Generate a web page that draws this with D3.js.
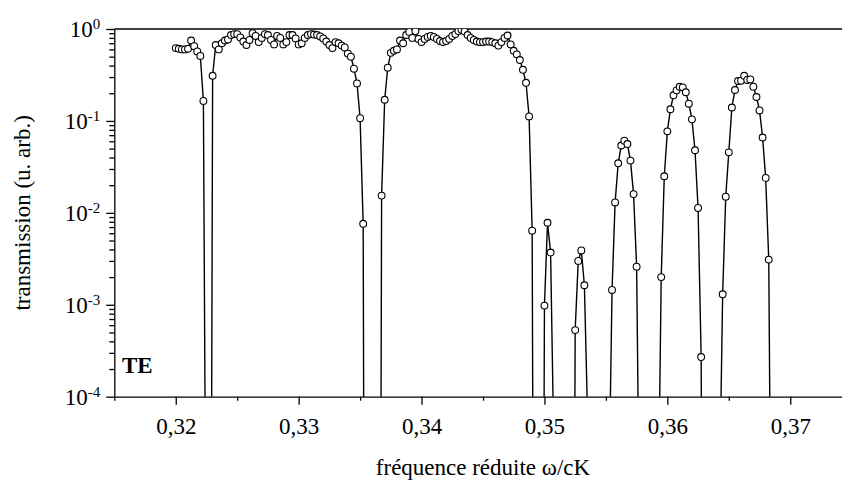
<!DOCTYPE html>
<html>
<head>
<meta charset="utf-8">
<script src="https://cdn.jsdelivr.net/npm/d3@7"></script>
<style>
  body { margin: 0; background: #fff; }
  text { font-family: "Liberation Serif", "Times New Roman", serif; fill: #000; }
  .axis path, .axis line { stroke: #000; stroke-width: 1.3; }
</style>
</head>
<body>
<div id="chart"></div>
<script>
// reduced frequency (omega/cK) of each sample
const freq = [
  0.32000, 0.32025, 0.32050, 0.32075, 0.32100, 0.32125, 0.32150, 0.32175, 0.32200, 0.32225,
  0.32250, 0.32275, 0.32300, 0.32325, 0.32350, 0.32375, 0.32400, 0.32425, 0.32450, 0.32475,
  0.32500, 0.32525, 0.32550, 0.32575, 0.32600, 0.32625, 0.32650, 0.32675, 0.32700, 0.32725,
  0.32750, 0.32775, 0.32800, 0.32825, 0.32850, 0.32875, 0.32900, 0.32925, 0.32950, 0.32975,
  0.33000, 0.33025, 0.33050, 0.33075, 0.33100, 0.33125, 0.33150, 0.33175, 0.33200, 0.33225,
  0.33250, 0.33275, 0.33300, 0.33325, 0.33350, 0.33375, 0.33400, 0.33425, 0.33450, 0.33475,
  0.33500, 0.33525, 0.33550, 0.33650, 0.33675, 0.33700, 0.33725, 0.33750, 0.33775, 0.33800,
  0.33825, 0.33850, 0.33875, 0.33900, 0.33925, 0.33950, 0.33975, 0.34000, 0.34025, 0.34050,
  0.34075, 0.34100, 0.34125, 0.34150, 0.34175, 0.34200, 0.34225, 0.34250, 0.34275, 0.34300,
  0.34325, 0.34350, 0.34375, 0.34400, 0.34425, 0.34450, 0.34475, 0.34500, 0.34525, 0.34550,
  0.34575, 0.34600, 0.34625, 0.34650, 0.34675, 0.34700, 0.34725, 0.34750, 0.34775, 0.34800,
  0.34825, 0.34850, 0.34875, 0.34900, 0.34925, 0.34975, 0.35000, 0.35025, 0.35050, 0.35075,
  0.35225, 0.35250, 0.35275, 0.35300, 0.35325, 0.35350, 0.35525, 0.35550, 0.35575, 0.35600,
  0.35625, 0.35650, 0.35675, 0.35700, 0.35725, 0.35750, 0.35775, 0.35925, 0.35950, 0.35975,
  0.36000, 0.36025, 0.36050, 0.36075, 0.36100, 0.36125, 0.36150, 0.36175, 0.36200, 0.36225,
  0.36250, 0.36275, 0.36300, 0.36425, 0.36450, 0.36475, 0.36500, 0.36525, 0.36550, 0.36575,
  0.36600, 0.36625, 0.36650, 0.36675, 0.36700, 0.36725, 0.36750, 0.36775, 0.36800, 0.36825,
  0.36850
];

// transmission (arb. units), TE polarisation
const trans = [
  0.62, 0.61, 0.60, 0.60, 0.61, 0.75, 0.65, 0.57, 0.51, 0.165,
  1e-7, 1e-12, 0.31, 0.67, 0.60, 0.70, 0.75, 0.77, 0.86, 0.88,
  0.88, 0.81, 0.73, 0.67, 0.76, 0.90, 0.84, 0.72, 0.80, 0.88,
  0.86, 0.76, 0.68, 0.84, 0.80, 0.68, 0.72, 0.86, 0.86, 0.79,
  0.68, 0.70, 0.80, 0.86, 0.88, 0.87, 0.86, 0.83, 0.79, 0.73,
  0.67, 0.62, 0.72, 0.70, 0.66, 0.63, 0.54, 0.50, 0.37, 0.256,
  0.107, 0.0076, 1e-14, 1e-14, 0.0154, 0.17, 0.38, 0.55, 0.58, 0.60,
  0.75, 0.70, 0.86, 0.93, 0.80, 0.95, 0.78, 0.72, 0.78, 0.82,
  0.84, 0.82, 0.78, 0.74, 0.72, 0.74, 0.78, 0.84, 0.88, 0.95,
  0.98, 0.94, 0.86, 0.80, 0.76, 0.73, 0.72, 0.72, 0.73, 0.73,
  0.72, 0.70, 0.66, 0.72, 0.80, 0.85, 0.68, 0.58, 0.53, 0.46,
  0.36, 0.26, 0.112, 0.0064, 1e-12, 1e-12, 0.00098, 0.0078, 0.0037, 3.6e-5,
  1e-12, 0.00053, 0.0030, 0.0039, 0.00163, 6.8e-5, 1e-5, 0.00145, 0.013, 0.0346,
  0.054, 0.061, 0.056, 0.037, 0.016, 0.0026, 2e-6, 4e-6, 0.0020, 0.025,
  0.077, 0.134, 0.19, 0.215, 0.235, 0.232, 0.205, 0.154, 0.104, 0.048,
  0.0113, 0.00027, 1e-12, 1e-5, 0.0013, 0.015, 0.0455, 0.14, 0.217, 0.272,
  0.274, 0.31, 0.279, 0.283, 0.236, 0.182, 0.13, 0.066, 0.024, 0.0031,
  1e-7
];

const xMajor = [0.32, 0.33, 0.34, 0.35, 0.36, 0.37];
const xMinor = [0.315, 0.325, 0.335, 0.345, 0.355, 0.365, 0.375];
const yMajor = [1e-4, 1e-3, 1e-2, 1e-1, 1];
const yExponents = ["-4", "-3", "-2", "-1", "0"];

const data = freq.map((f, i) => ({ f: f, t: trans[i] }));

const width = 842, height = 484;
const plot = { left: 114.3, right: 851.7, top: 29, bottom: 396.7 };

const svg = d3.select("#chart")
  .append("svg")
  .attr("width", width)
  .attr("height", height);

const xScale = d3.scaleLinear().domain([0.315, 0.375]).range([plot.left, plot.right]);
const yScale = d3.scaleLog().domain([1e-4, 1]).range([plot.bottom, plot.top]);

svg.append("clipPath")
  .attr("id", "clip")
  .append("rect")
  .attr("x", plot.left)
  .attr("y", plot.top)
  .attr("width", plot.right - plot.left)
  .attr("height", plot.bottom - plot.top);

// y minor ticks (2..9 in each decade)
const yMinor = [];
yMajor.slice(0, -1).forEach(d => { for (let k = 2; k <= 9; k++) yMinor.push(d * k); });

svg.append("g")
  .attr("class", "axis")
  .attr("transform", `translate(${plot.left},0)`)
  .call(d3.axisLeft(yScale).tickValues(yMinor).tickSize(5).tickFormat(""))
  .call(g => g.select(".domain").remove());

const yAxis = svg.append("g")
  .attr("class", "axis")
  .attr("transform", `translate(${plot.left},0)`)
  .call(d3.axisLeft(yScale).tickValues(yMajor).tickSize(8).tickSizeOuter(0).tickPadding(6).tickFormat(""));

yAxis.selectAll(".tick").each(function(d, i) {
  const t = d3.select(this).append("text")
    .attr("x", -14)
    .attr("dy", "0.33em")
    .attr("text-anchor", "end")
    .style("font-size", "23px")
    .text("10");
  t.append("tspan")
    .attr("dy", "-8")
    .style("font-size", "15px")
    .text(yExponents[i]);
});

// x axis
svg.append("g")
  .attr("class", "axis")
  .attr("transform", `translate(0,${plot.bottom})`)
  .call(d3.axisBottom(xScale).tickValues(xMinor).tickSize(4).tickFormat(""))
  .call(g => g.select(".domain").remove());

svg.append("g")
  .attr("class", "axis")
  .attr("transform", `translate(0,${plot.bottom})`)
  .call(d3.axisBottom(xScale).tickValues(xMajor).tickSize(8).tickSizeOuter(0).tickPadding(13)
    .tickFormat(d => d3.format(".2f")(d).replace(".", ",")))
  .call(g => g.selectAll("text").style("font-size", "23px"));

// top frame
svg.append("line")
  .attr("x1", plot.left).attr("x2", plot.right)
  .attr("y1", plot.top).attr("y2", plot.top)
  .attr("stroke", "#000").attr("stroke-width", 1.3);

const plotArea = svg.append("g").attr("clip-path", "url(#clip)");

const line = d3.line()
  .x(d => xScale(d.f))
  .y(d => yScale(d.t));

plotArea.append("path")
  .datum(data)
  .attr("fill", "none")
  .attr("stroke", "#000")
  .attr("stroke-width", 1.4)
  .attr("d", line);

plotArea.selectAll(".pt")
  .data(data.filter(d => d.t >= 1e-4))
  .enter()
  .append("circle")
  .attr("class", "pt")
  .attr("cx", d => xScale(d.f))
  .attr("cy", d => yScale(d.t))
  .attr("r", 3.4)
  .attr("fill", "#fff")
  .attr("stroke", "#000")
  .attr("stroke-width", 1.1);

svg.append("text")
  .attr("x", 122)
  .attr("y", 373)
  .style("font-size", "23px")
  .style("font-weight", "bold")
  .text("TE");

svg.append("text")
  .attr("x", (plot.left + plot.right) / 2)
  .attr("y", 475)
  .attr("text-anchor", "middle")
  .style("font-size", "23px")
  .text("fréquence réduite ω/cK");

svg.append("text")
  .attr("transform", `translate(30,${(plot.top + plot.bottom) / 2}) rotate(-90)`)
  .attr("text-anchor", "middle")
  .style("font-size", "23px")
  .text("transmission (u. arb.)");
</script>
</body>
</html>
